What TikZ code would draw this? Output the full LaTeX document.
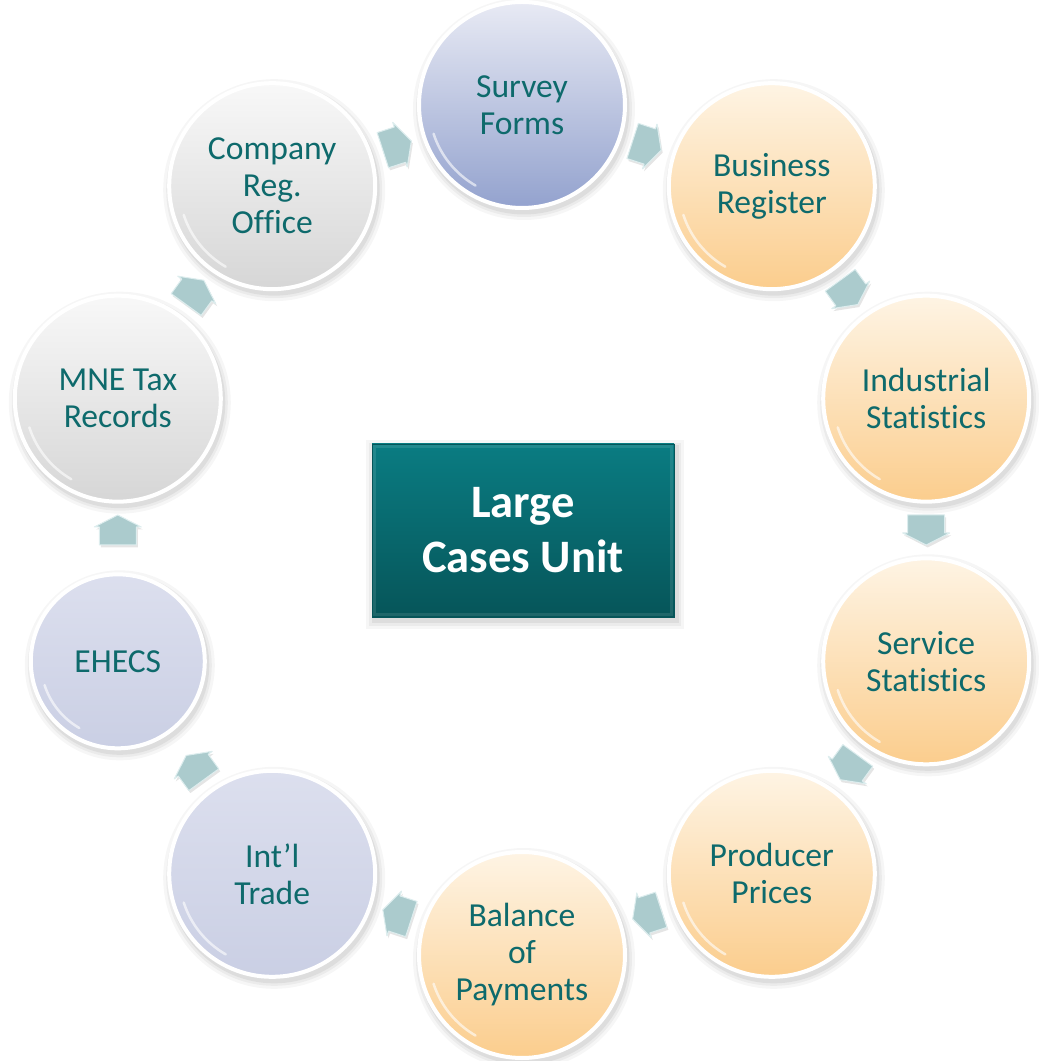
\documentclass[tikz,border=0pt]{standalone}
\usepackage{fontspec}
\setmainfont[Ligatures=NoCommon]{Carlito}
\usetikzlibrary{calc}
\definecolor{txt}{HTML}{0E6A6C}
\definecolor{orTop}{HTML}{FEF4E4}
\definecolor{orBot}{HTML}{FBCD8D}
\definecolor{svTop}{HTML}{E8EAF4}
\definecolor{svBot}{HTML}{93A2CE}
\definecolor{lvTop}{HTML}{DCDFEE}
\definecolor{lvBot}{HTML}{CACFE4}
\definecolor{gyTop}{HTML}{F8F8F8}
\definecolor{gyBot}{HTML}{D6D6D6}
\definecolor{boxTop}{HTML}{0A7C82}
\definecolor{boxBot}{HTML}{065559}
\definecolor{arrFill}{HTML}{ABCBCD}
\definecolor{arrEdge}{HTML}{DDEDEE}
\tikzset{
  softshadow/.style={
    preaction={draw=black, draw opacity=0.035, line width=16pt, fill=none, transform canvas={xshift=2pt,yshift=-4pt}},
    preaction={draw=black, draw opacity=0.045, line width=10pt, fill=none, transform canvas={xshift=2pt,yshift=-4pt}},
    preaction={draw=black, draw opacity=0.06, line width=5pt, fill=none, transform canvas={xshift=2pt,yshift=-4pt}}},
  circ/.style={circle, draw=white, line width=4pt, inner sep=0pt, minimum size=206pt,
    align=center, text=txt, font=\fontsize{33.6}{37}\selectfont, softshadow},
  orangec/.style={top color=orTop, bottom color=orBot},
  surveyc/.style={top color=svTop, bottom color=svBot},
  lavc/.style={top color=lvTop, bottom color=lvBot},
  greyc/.style={top color=gyTop, bottom color=gyBot},
  gloss/.style={draw=white, line width=2.5pt, draw opacity=0.6, line cap=round},
  blockarr/.style={fill=arrFill, draw=arrEdge, line width=1pt, line join=round,
    preaction={fill=black, fill opacity=0.10, draw=none, transform canvas={xshift=1.5pt,yshift=-2.5pt}}},
  centrebox/.style={rectangle, minimum width=302pt, minimum height=173pt, inner sep=0pt,
    top color=boxTop, bottom color=boxBot, draw=boxBot, line width=0.6pt,
    text=white, align=center, font=\bfseries\fontsize{46.5}{55}\selectfont, softshadow}
}
\newcommand\cyclearrow[3]{%
  \coordinate (m-#1-#2) at ($(#1)!0.5!(#2)$);
  \draw[blockarr, shift={(m-#1-#2)}, rotate=#3]
    (-15,-18.5) -- (3,-18.5) -- (3,-23.5) -- (15,0) -- (3,23.5) -- (3,18.5) -- (-15,18.5) -- cycle;}
\begin{document}
\begin{tikzpicture}[x=1pt,y=1pt]
\useasboundingbox (0,0) rectangle (1039,1061);
\coordinate (O) at (522,531);
% central box
\node[centrebox] (lcu) at (523,530.5) {Large\\Cases Unit};
\draw[white, opacity=0.10, line width=3pt] ($(lcu.south west)+(3,3)$) rectangle ($(lcu.north east)+(-3,-3)$);
% circles
\node[circ, surveyc] (survey) at ($(O)+(90:425)$) {Survey\\Forms};
\node[circ, orangec] (busreg) at ($(O)+(54:425)$) {Business\\Register};
\node[circ, orangec] (indstat) at ($(O)+(18:425)$) {Industrial\\Statistics};
\node[circ, orangec] (servstat) at ($(O)+(-18:425)$) {Service\\Statistics};
\node[circ, orangec] (prodpr) at ($(O)+(-54:425)$) {Producer\\Prices};
\node[circ, orangec] (bop) at ($(O)+(-90:425)$) {Balance\\of\\Payments};
\node[circ, lavc] (trade) at ($(O)+(-126:425)$) {Int’l\\Trade};
\node[circ, lavc, minimum size=174pt] (ehecs) at ($(O)+(-162:425)$) {EHECS};
\node[circ, greyc] (mne) at ($(O)+(162:425)$) {MNE Tax\\Records};
\node[circ, greyc] (compreg) at ($(O)+(126:425)$) {Company\\Reg.\\Office};
% gloss highlights
\foreach \n in {survey,busreg,indstat,servstat,prodpr,bop,trade,mne,compreg}
  \draw[gloss] ($(\n.center)+(198:93)$) arc[start angle=198, end angle=240, radius=93];
\draw[gloss] ($(ehecs.center)+(198:77)$) arc[start angle=198, end angle=240, radius=77];
% arrows
\cyclearrow{compreg}{survey}{18}
\cyclearrow{survey}{busreg}{-18}
\cyclearrow{busreg}{indstat}{-54}
\cyclearrow{indstat}{servstat}{-90}
\cyclearrow{servstat}{prodpr}{-126}
\cyclearrow{prodpr}{bop}{-162}
\cyclearrow{bop}{trade}{162}
\cyclearrow{trade}{ehecs}{126}
\cyclearrow{ehecs}{mne}{90}
\cyclearrow{mne}{compreg}{54}
\end{tikzpicture}
\end{document}
